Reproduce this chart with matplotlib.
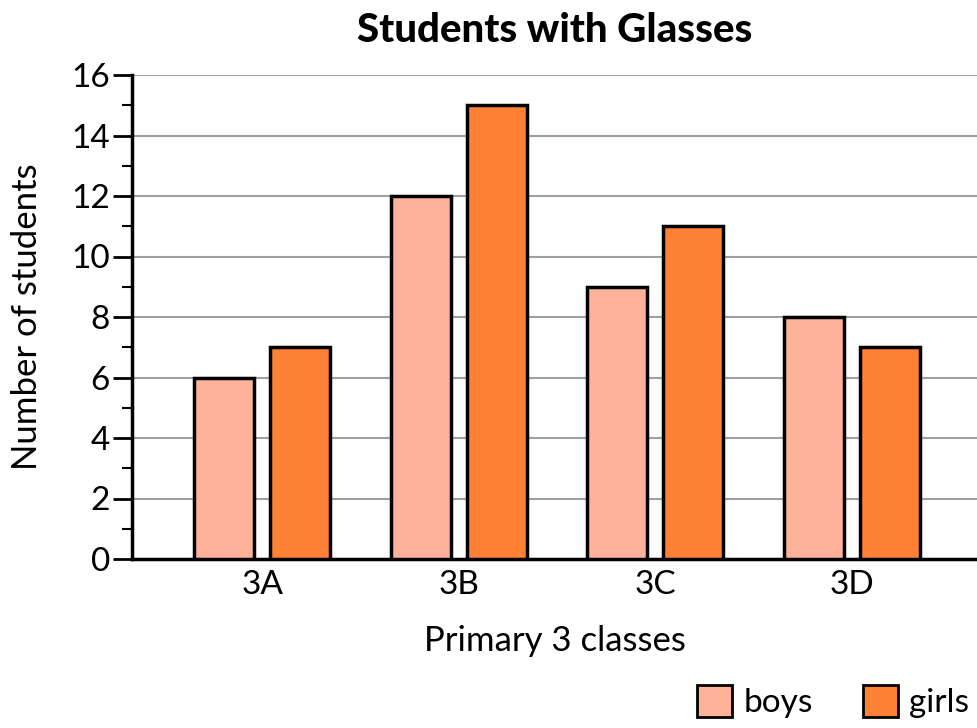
import matplotlib
matplotlib.use("Agg")
import matplotlib.pyplot as plt
from matplotlib.patches import Patch
import numpy as np

categories = ["3A", "3B", "3C", "3D"]
boys = [6, 12, 9, 8]
girls = [7, 15, 11, 7]
yticks = [0, 2, 4, 6, 8, 10, 12, 14, 16]

boys_color = "#FEB29A"
girls_color = "#FE8135"

plt.rcParams['font.family'] = ['Lato', 'DejaVu Sans']

fig = plt.figure(figsize=(9.78, 7.28), dpi=100)
ax = fig.add_axes([132/978, 1 - 559/728, 1 - 132/978, (559-75)/728])

x = np.arange(len(categories))
w = 0.305
off = 0.193
ax.bar(x - off, boys, w, color=boys_color, edgecolor="black", linewidth=2.5, zorder=3)
ax.bar(x + off, girls, w, color=girls_color, edgecolor="black", linewidth=2.5, zorder=3)

ax.set_xlim(-0.663, 3.642)
ax.set_ylim(0, 16)
ax.set_yticks(yticks)
ax.set_yticks(np.arange(1, 16, 2), minor=True)
ax.set_xticks(x)
ax.set_xticklabels(categories)
ax.tick_params(axis='y', which='major', length=14, width=2, labelsize=24, pad=2)
ax.tick_params(axis='y', which='minor', length=7, width=1.5)
ax.tick_params(axis='x', length=0, labelsize=24, pad=8)
ax.yaxis.grid(True, which='major', color='#a0a0a0', linewidth=1.5, zorder=0)
ax.set_axisbelow(True)
for s in ['top', 'right']:
    ax.spines[s].set_visible(False)
for s in ['left', 'bottom']:
    ax.spines[s].set_linewidth(2.5)

ax.set_ylabel("Number of students", fontsize=25, labelpad=20)
ax.set_xlabel("Primary 3 classes", fontsize=25, labelpad=18)
ax.set_title("Students with Glasses", fontsize=29, fontweight='black', pad=24)

handles = [Patch(facecolor=boys_color, edgecolor='black', linewidth=2),
           Patch(facecolor=girls_color, edgecolor='black', linewidth=2)]
fig.legend(handles, ["boys", "girls"], loc='lower right',
           bbox_to_anchor=(0.998, 0.004), ncol=2, frameon=False,
           fontsize=24, handlelength=1.05, handleheight=1.1,
           handletextpad=0.35, columnspacing=1.5, borderaxespad=0.0,
           borderpad=0.2)

fig.savefig("out.png", dpi=100)
